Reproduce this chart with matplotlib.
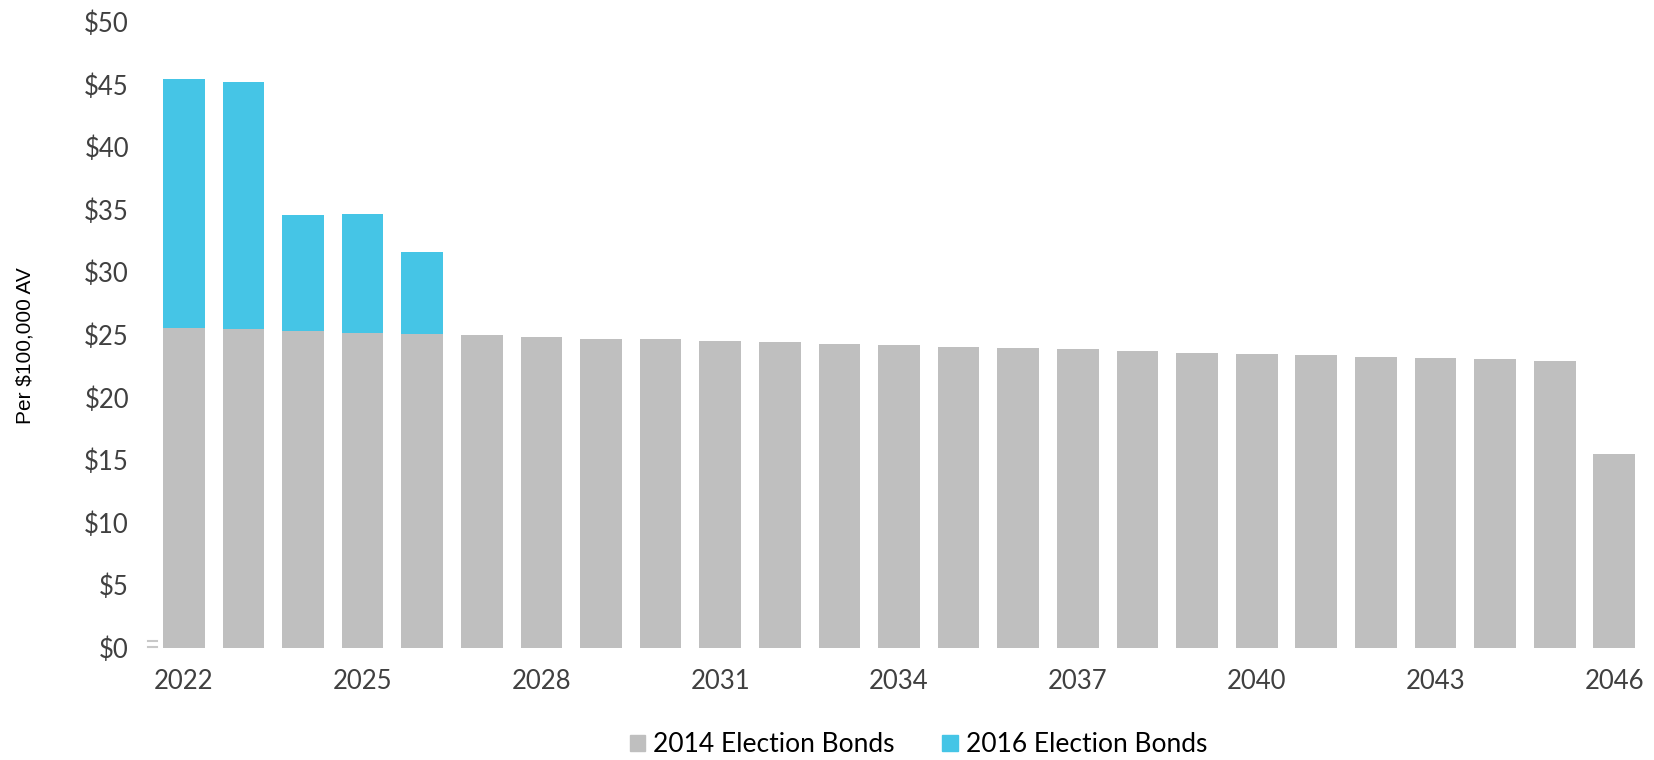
import numpy as np
import matplotlib
matplotlib.use("Agg")
import matplotlib.pyplot as plt
from matplotlib.patches import Patch

# data (per $100,000 AV)
years = list(range(2022, 2047))
bonds_2014 = [25.56, 25.45, 25.30, 25.16, 25.07, 25.00, 24.82, 24.68, 24.63, 24.52,
              24.44, 24.23, 24.17, 24.02, 23.94, 23.83, 23.70, 23.54, 23.43, 23.35,
              23.22, 23.16, 23.06, 22.90, 15.45]
totals_top = [45.42, 45.18, 34.54, 34.64, 31.58]
bonds_2016 = [t - g for t, g in zip(totals_top, bonds_2014[:5])] + [0.0] * 20
tick_years = list(range(2022, 2047, 3))

gray = '#BFBFBF'
blue = '#45C5E6'
txt = '#404040'

fig = plt.figure(figsize=(16.54, 7.6), dpi=100)
ax = fig.add_axes([0.0931, 0.1478, 0.9009, 0.8236])

x = np.arange(len(years))
ax.bar(x, bonds_2014, width=0.7, color=gray, edgecolor='none')
ax.bar(x, bonds_2016, width=0.7, bottom=bonds_2014, color=blue, edgecolor='none')

ax.set_xlim(-0.5, len(years) - 0.5)
ax.set_ylim(0, 50)
ax.set_yticks(range(0, 51, 5))
ax.set_yticklabels(['$' + str(v) for v in range(0, 51, 5)])
ax.set_xticks([years.index(y) for y in tick_years])
ax.set_xticklabels([str(y) for y in tick_years])

for s in ax.spines.values():
    s.set_visible(False)
ax.tick_params(axis='both', length=0, labelsize=18.5, labelcolor=txt)
ax.tick_params(axis='y', pad=18)
ax.tick_params(axis='x', pad=15)
for lab in ax.get_xticklabels() + ax.get_yticklabels():
    lab.set_family('Lato')

# small stray marks beside the origin, as in the source
ax.plot([-0.6, -0.45], [0.55, 0.55], color='#C8C8C8', lw=1.5, clip_on=False)
ax.plot([-0.6, -0.45], [0.05, 0.05], color='#C8C8C8', lw=1.5, clip_on=False)

fig.text(0.015, 0.545, 'Per $100,000 AV', rotation=90, ha='center', va='center',
         fontsize=15, family='Liberation Sans', color='black')

handles = [Patch(color=gray, label='2014 Election Bonds'),
           Patch(color=blue, label='2016 Election Bonds')]
fig.legend(handles=handles, loc='center', bbox_to_anchor=(0.5553, 0.02), ncol=2,
           frameon=False, handlelength=0.6, handleheight=0.6,
           handletextpad=0.3, columnspacing=1.8, labelcolor='black',
           prop={'family': 'Lato', 'size': 19})

fig.savefig('out.png', dpi=100)
